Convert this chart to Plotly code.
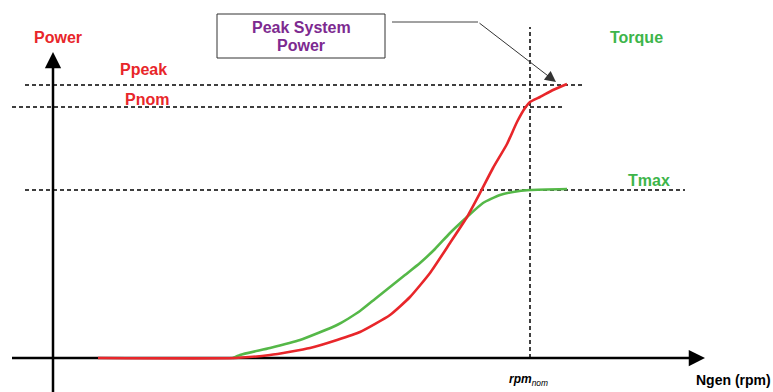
import plotly.graph_objects as go

# Generator speed (arbitrary units, origin at axis) and curves
power_rpm = [45, 182, 217, 257, 284, 307, 337, 357, 377, 397, 414, 427, 440, 454, 464, 472, 477, 487, 500, 514]
power_val = [0, 0, 3, 10, 18, 26, 43, 61, 85, 115, 141, 165, 190, 214, 236, 250, 256, 261, 268, 274]

torque_rpm = [180, 187, 217, 247, 284, 307, 322, 337, 352, 367, 382, 397, 414, 430, 447, 460, 477, 514]
torque_val = [0, 3, 10, 18, 33, 47, 59, 71, 83, 95, 109, 125, 141, 155, 163, 166, 168, 169]

P_PEAK = 273
P_NOM = 251
T_MAX = 168
RPM_NOM = 477

RED = "#e8262a"
GREEN = "#55b848"
TGREEN = "#3db54a"
PURPLE = "#7d2a90"
FONT = "Liberation Sans, Arial, sans-serif"

fig = go.Figure()

fig.add_trace(go.Scatter(x=torque_rpm, y=torque_val, mode="lines",
                         line=dict(color=GREEN, width=2.6, shape="spline", smoothing=0.5),
                         hoverinfo="skip"))
fig.add_trace(go.Scatter(x=power_rpm, y=power_val, mode="lines",
                         line=dict(color=RED, width=2.6, shape="spline", smoothing=0.5),
                         hoverinfo="skip"))

dash = "4px,3px"
shapes = [
    dict(type="line", x0=-28, x1=530, y0=P_PEAK, y1=P_PEAK, line=dict(color="black", width=1.5, dash=dash), layer="below"),
    dict(type="line", x0=-41, x1=512, y0=P_NOM, y1=P_NOM, line=dict(color="black", width=1.5, dash=dash), layer="below"),
    dict(type="line", x0=-28, x1=632, y0=T_MAX, y1=T_MAX, line=dict(color="black", width=1.5, dash=dash), layer="below"),
    dict(type="line", x0=RPM_NOM, x1=RPM_NOM, y0=0, y1=331, line=dict(color="black", width=1.5, dash=dash), layer="below"),
    # axes lines
    dict(type="line", x0=0, x1=0, y0=-34, y1=296, line=dict(color="black", width=2.5), layer="below"),
    dict(type="line", x0=-41, x1=642, y0=0, y1=0, line=dict(color="black", width=2.5), layer="below"),
    dict(type="rect", x0=164, x1=332, y0=300, y1=344, line=dict(color="#333333", width=1), fillcolor="white"),
    dict(type="line", x0=339, x1=425, y0=336, y1=336, line=dict(color="#444444", width=1)),
]

annotations = [
    # axis arrowheads
    dict(x=0, y=306, ax=0, ay=290, axref="x", ayref="y", xref="x", yref="y", text="",
         showarrow=True, arrowhead=2, arrowsize=1.3, arrowwidth=2.5, arrowcolor="black"),
    dict(x=652, y=0, ax=636, ay=0, axref="x", ayref="y", xref="x", yref="y", text="",
         showarrow=True, arrowhead=2, arrowsize=1.3, arrowwidth=2.5, arrowcolor="black"),
    # callout arrow
    dict(x=503, y=276, ax=425, ay=336, axref="x", ayref="y", xref="x", yref="y", text="",
         showarrow=True, arrowhead=2, arrowsize=2.2, arrowwidth=1, arrowcolor="#333333"),
    dict(x=248, y=331, text="<b>Peak System</b>", showarrow=False,
         font=dict(family=FONT, size=16, color=PURPLE)),
    dict(x=248, y=313, text="<b>Power</b>", showarrow=False,
         font=dict(family=FONT, size=16, color=PURPLE)),
    dict(x=5, y=321, text="<b>Power</b>", showarrow=False, font=dict(family=FONT, size=16, color=RED)),
    dict(x=90, y=289, text="<b>Ppeak</b>", showarrow=False, font=dict(family=FONT, size=16, color=RED)),
    dict(x=94, y=259, text="<b>Pnom</b>", showarrow=False, font=dict(family=FONT, size=16, color=RED)),
    dict(x=583, y=321, text="<b>Torque</b>", showarrow=False, font=dict(family=FONT, size=16, color=TGREEN)),
    dict(x=596, y=178, text="<b>Tmax</b>", showarrow=False, font=dict(family=FONT, size=16, color=TGREEN)),
    dict(x=475, y=-22, text="<b><i>rpm</i></b><sub><i>nom</i></sub>", showarrow=False,
         font=dict(family=FONT, size=12, color="black")),
    dict(x=680, y=-22, text="<b>Ngen (rpm)</b>", showarrow=False, font=dict(family=FONT, size=14, color="black")),
]

fig.update_layout(
    width=773, height=392,
    margin=dict(l=0, r=0, t=0, b=0),
    paper_bgcolor="white", plot_bgcolor="white",
    showlegend=False,
    xaxis=dict(range=[-53, 720], visible=False, fixedrange=True),
    yaxis=dict(range=[-34, 358], visible=False, fixedrange=True),
    shapes=shapes, annotations=annotations,
)

fig.write_html("out.html", config={"displayModeBar": False},
               post_script="document.body.style.margin='0';document.body.style.overflow='hidden';")
